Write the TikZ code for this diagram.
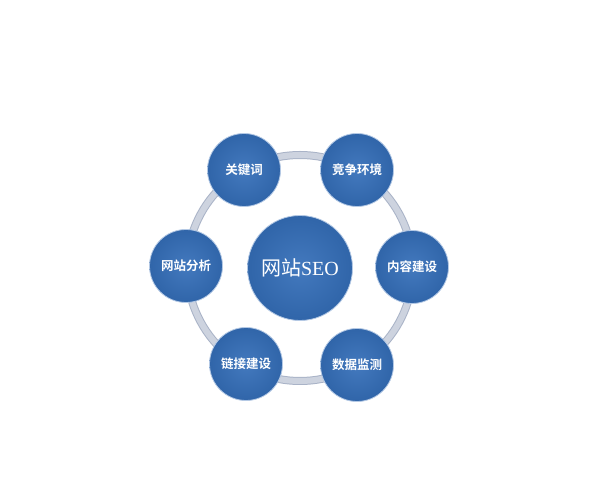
\documentclass[tikz,border=0pt]{standalone}
\usepackage{fontspec}
\newfontfamily\cjk{Noto Sans CJK SC}
\newfontfamily\cjkb{Noto Sans CJK SC}[BoldFont={* Bold},UprightFont={* Bold}]
\newfontfamily\serifsc{Liberation Serif}
\usetikzlibrary{shadings}
\definecolor{ballin}{HTML}{4379BE}
\definecolor{ballout}{HTML}{3065A9}
\definecolor{ringc}{HTML}{CDD3DF}
\definecolor{ringd}{HTML}{A9B3C7}
\tikzset{
  ball/.style={circle, minimum size=#1, inner sep=0pt, draw=white!60!ballin, line width=0.8pt,
    inner color=ballin, outer color=ballout, text=white},
  ball/.default=73pt,
  lbl/.style={font=\cjkb\fontsize{12.5}{13}\selectfont}
}
\begin{document}
\begin{tikzpicture}[x=1pt,y=1pt]
\useasboundingbox (0,0) rectangle (604,481);
\fill[white] (0,0) rectangle (604,481);
\coordinate (c) at (300,213);
\draw[ringd, line width=8pt] (c) circle (113);
\draw[ringc, line width=6pt] (c) circle (113);
\node[ball=105pt, font=\cjk\fontsize{20}{21}\selectfont] (center) at (c) {网站\serifsc SEO};
\node[ball, lbl] (k1) at (244,311) {关键词};
\node[ball, lbl] (k2) at (357,311) {竞争环境};
\node[ball, lbl] (k3) at (412,214) {内容建设};
\node[ball, lbl] (k4) at (357,116) {数据监测};
\node[ball, lbl] (k5) at (246,117) {链接建设};
\node[ball, lbl] (k6) at (186,215) {网站分析};
\end{tikzpicture}
\end{document}
